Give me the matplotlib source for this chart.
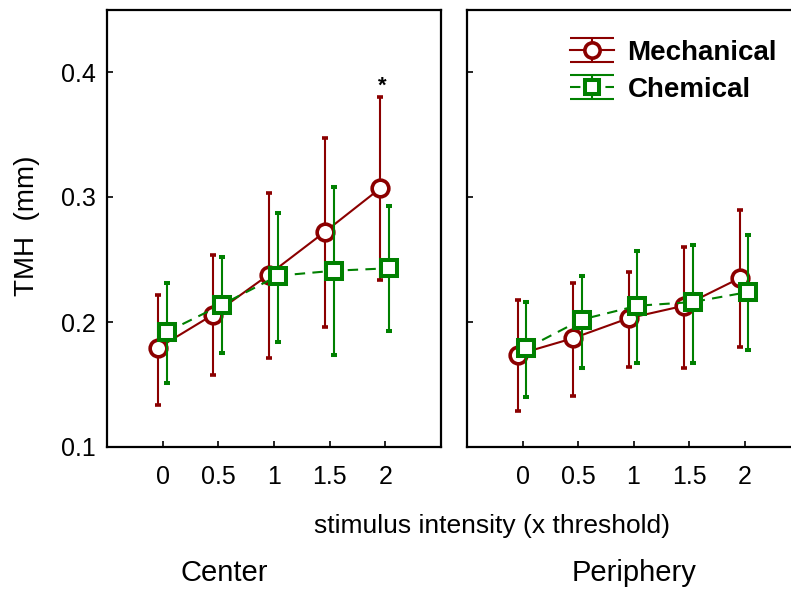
import matplotlib
matplotlib.use("Agg")
import matplotlib.pyplot as plt
import numpy as np
from matplotlib.path import Path
from matplotlib.lines import Line2D
from matplotlib.legend_handler import HandlerTuple

plt.rcParams['font.family'] = ['Liberation Sans', 'DejaVu Sans']

intensity = np.array([0, 0.5, 1, 1.5, 2])

# Center panel (mean, lower and upper end of error bar)
center_mech = [0.179, 0.206, 0.238, 0.272, 0.307]
center_mech_lo = [0.134, 0.158, 0.171, 0.196, 0.234]
center_mech_hi = [0.222, 0.254, 0.303, 0.347, 0.380]
center_chem = [0.192, 0.214, 0.237, 0.241, 0.243]
center_chem_lo = [0.151, 0.175, 0.184, 0.174, 0.193]
center_chem_hi = [0.231, 0.252, 0.287, 0.308, 0.293]

# Periphery panel
periph_mech = [0.174, 0.187, 0.203, 0.213, 0.235]
periph_mech_lo = [0.129, 0.141, 0.164, 0.163, 0.180]
periph_mech_hi = [0.218, 0.231, 0.240, 0.260, 0.290]
periph_chem = [0.179, 0.202, 0.213, 0.216, 0.224]
periph_chem_lo = [0.140, 0.163, 0.167, 0.167, 0.178]
periph_chem_hi = [0.216, 0.237, 0.257, 0.262, 0.270]

mech_color = '#8b0000'
chem_color = '#008000'
dashes = (0, (5, 3.5))

fig = plt.figure(figsize=(7.91, 5.89), dpi=100)
ax1 = fig.add_axes([107 / 791, 1 - 447 / 589, 334 / 791, 437.5 / 589])
ax2 = fig.add_axes([467 / 791, 1 - 447 / 589, 333 / 791, 437.5 / 589])


def draw_panel(ax, mech, mlo, mhi, chem, clo, chi):
    mech = np.array(mech)
    chem = np.array(chem)
    ax.errorbar(intensity - 0.045, mech, yerr=[mech - np.array(mlo), np.array(mhi) - mech],
                color=mech_color, lw=1.5, elinewidth=1.5, capsize=2.5, capthick=1.3,
                marker='o', ms=12, mew=2.6, mfc='white', mec=mech_color, zorder=3)
    ax.errorbar(intensity + 0.035, chem, yerr=[chem - np.array(clo), np.array(chi) - chem],
                color=chem_color, lw=1.5, ls=dashes, elinewidth=1.5, capsize=2.5, capthick=1.3,
                marker='s', ms=12, mew=2.9, mfc='white', mec=chem_color, zorder=4)
    ax.set_xlim(-0.5, 2.5)
    ax.set_ylim(0.1, 0.45)
    ax.set_xticks(intensity)
    ax.set_xticklabels(['0', '0.5', '1', '1.5', '2'])
    ax.set_yticks([0.1, 0.2, 0.3, 0.4])
    ax.tick_params(direction='in', length=4, width=1.2, labelsize=18, top=False, right=False)
    ax.tick_params(axis='x', pad=13)
    ax.tick_params(axis='y', pad=8)
    for s in ax.spines.values():
        s.set_linewidth(1.6)


draw_panel(ax1, center_mech, center_mech_lo, center_mech_hi,
           center_chem, center_chem_lo, center_chem_hi)
draw_panel(ax2, periph_mech, periph_mech_lo, periph_mech_hi,
           periph_chem, periph_chem_lo, periph_chem_hi)
ax1.set_yticklabels(['0.1', '0.2', '0.3', '0.4'])
ax2.set_yticklabels([])

# significance mark
ax1.text(2 - 0.03, 0.389, '*', ha='center', va='center', fontsize=16, fontweight='bold')

# legend with wide horizontal bars like the original
bar_path = Path([(-1, 0.54), (1, 0.54), (-1, -0.54), (1, -0.54), (0, 0.54), (0, -0.54)],
                [Path.MOVETO, Path.LINETO, Path.MOVETO, Path.LINETO, Path.MOVETO, Path.LINETO])
mech_bars = Line2D([], [], ls='none', marker=bar_path, ms=32, mew=1.5, color=mech_color)
chem_bars = Line2D([], [], ls='none', marker=bar_path, ms=32, mew=1.5, color=chem_color)
mech_h = Line2D([], [], color=mech_color, lw=1.5, marker='o', ms=11, mew=2.6,
                mfc='white', mec=mech_color)
chem_h = Line2D([], [], color=chem_color, lw=1.5, ls=dashes, marker='s', ms=10, mew=2.9,
                mfc='white', mec=chem_color)
fig.legend([(mech_bars, mech_h), (chem_bars, chem_h)], ['Mechanical', 'Chemical'],
           handler_map={tuple: HandlerTuple(ndivide=1)},
           loc='upper left', bbox_to_anchor=(570 / 791, 1 - 40 / 589),
           frameon=False, borderpad=0, borderaxespad=0, handlelength=1.6,
           handletextpad=0.47, labelspacing=0.39,
           prop={'size': 20, 'weight': 'bold'})

fig.text(27.5 / 791, 1 - 226 / 589, 'TMH  (mm)', rotation=90, ha='center', va='center', fontsize=20)
fig.text(492 / 791, 1 - 533 / 589, 'stimulus intensity (x threshold)', ha='center',
         va='baseline', fontsize=19)
fig.text(224 / 791, 1 - 581 / 589, 'Center', ha='center', va='baseline', fontsize=21)
fig.text(633.7 / 791, 1 - 581 / 589, 'Periphery', ha='center', va='baseline', fontsize=21)

fig.savefig('out.png', dpi=100)
